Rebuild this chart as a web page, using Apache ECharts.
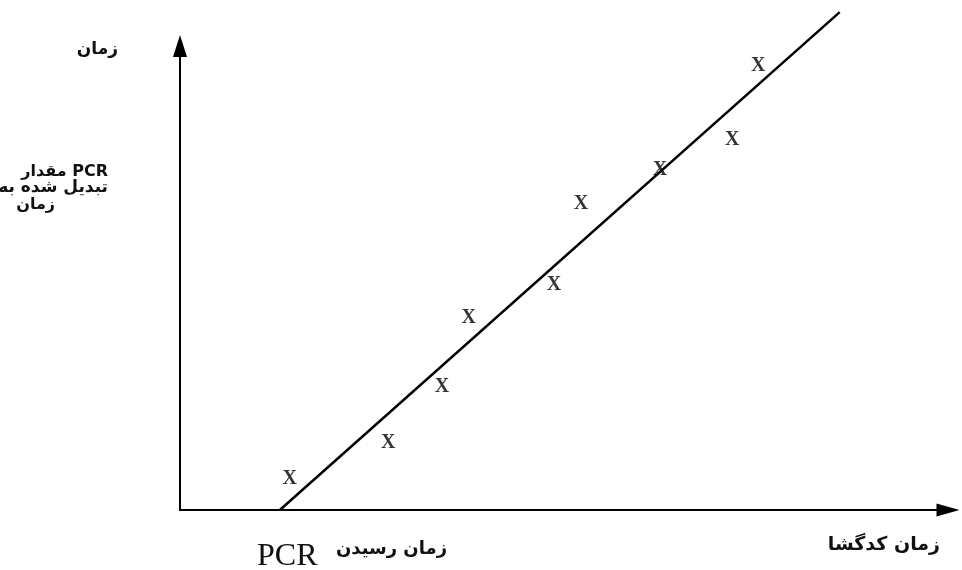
<!DOCTYPE html>
<html>
<head>
<meta charset="utf-8">
<script src="https://cdn.jsdelivr.net/npm/echarts@6/dist/echarts.min.js"></script>
<style>html,body{margin:0;padding:0;background:#fff;}#c{width:962px;height:570px;}</style>
</head>
<body>
<div id="c"></div>
<script>
// Observed points (arbitrary units, axis 0..100)
const pointX = [14.3, 27.1, 34.1, 37.6, 48.7, 52.2, 62.5, 71.9, 75.3];
const pointY = [6.7, 14.4, 26.5, 41.4, 48.5, 65.9, 73.3, 79.7, 95.7];
// Fitted line endpoints
const lineX = [13.0, 85.9];
const lineY = [0, 107.3];
// Texts
const yAxisTop = 'زمان';
const yAxisLines = ['مقدار PCR', 'تبدیل شده به', 'زمان'];
const xAxisName = 'زمان کدگشا';
const originLabel = 'زمان رسیدن';
const originLabel2 = 'PCR';

const chart = echarts.init(document.getElementById('c'));
const fa = 'DejaVu Sans';
function txt(x, y, text, size, weight, align, family) {
  return { type: 'text', style: { x: x, y: y, text: text, textAlign: align || 'right', textVerticalAlign: 'middle',
    fontSize: size, fontWeight: weight || 'normal', fontFamily: family || fa, fill: '#111' } };
}
chart.setOption({
  animation: false,
  backgroundColor: '#fff',
  grid: { left: 180, top: 46, right: 14, bottom: 60 },
  xAxis: {
    type: 'value', min: 0, max: 100,
    axisLine: { show: true, onZero: false, lineStyle: { color: '#000', width: 2 }, symbol: ['none', 'triangle'], symbolSize: [13, 23] },
    axisTick: { show: false }, axisLabel: { show: false }, splitLine: { show: false }
  },
  yAxis: {
    type: 'value', min: 0, max: 100,
    axisLine: { show: true, onZero: false, lineStyle: { color: '#000', width: 2 }, symbol: ['none', 'triangle'], symbolSize: [14, 22] },
    axisTick: { show: false }, axisLabel: { show: false }, splitLine: { show: false }
  },
  series: [
    {
      type: 'line', clip: false, symbol: 'none',
      data: lineX.map((x, i) => [x, lineY[i]]),
      lineStyle: { color: '#000', width: 2.5 }
    },
    {
      type: 'scatter', clip: false, symbolSize: 0,
      data: pointX.map((x, i) => [x, pointY[i]]),
      label: { show: true, position: 'inside', formatter: 'X', color: '#000',
        fontFamily: 'Liberation Serif', fontWeight: 'bold', fontSize: 20 }
    }
  ],
  graphic: [
    txt(118, 50, yAxisTop, 17, 'bold'),
    txt(108, 172, yAxisLines[0], 16, 'bold'),
    txt(108, 188, yAxisLines[1], 17, 'bold'),
    txt(55, 205, yAxisLines[2], 16, 'bold'),
    txt(940, 545, xAxisName, 19, 'bold'),
    txt(447, 549, originLabel, 18, 'bold'),
    txt(257, 557, originLabel2, 32, 'normal', 'left', 'Liberation Serif')
  ]
});
</script>
</body>
</html>
